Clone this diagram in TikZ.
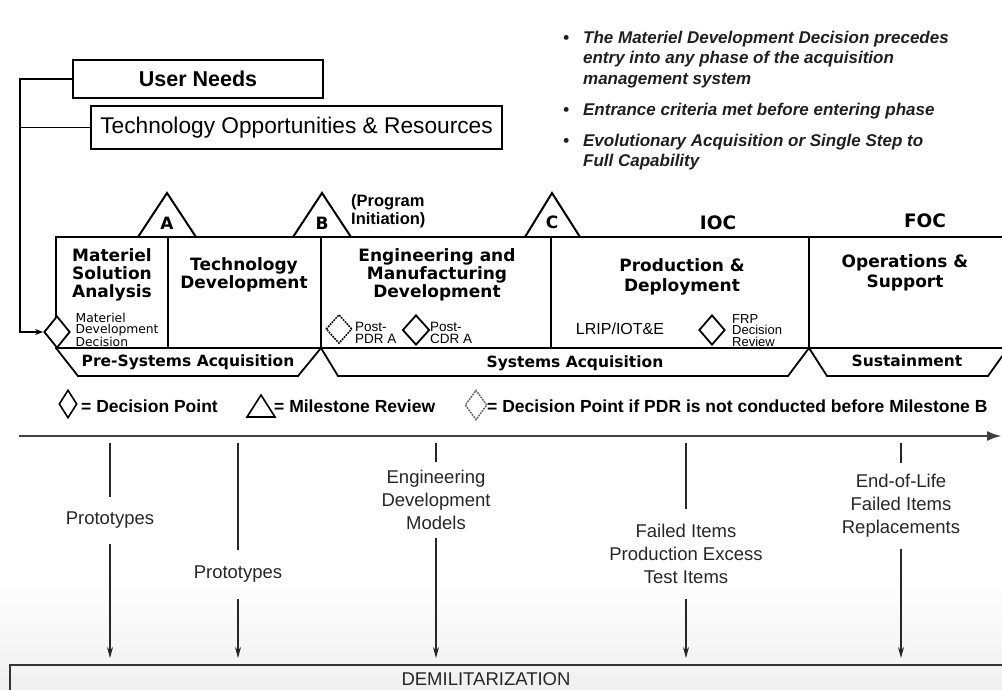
\documentclass[tikz,border=0pt]{standalone}
\usepackage{fontspec}
\setmainfont{Liberation Sans}
\newfontfamily\dvs{DejaVu Sans}
\usetikzlibrary{shapes.geometric,arrows.meta}
\newcommand\fsz[2]{\fontsize{#1}{#2}\selectfont}
\begin{document}
\begin{tikzpicture}[x=1pt,y=-1pt,
  topbox/.style={draw, line width=2pt, inner sep=0pt, outer sep=0pt},
  phase/.style={draw, line width=2.4pt, minimum height=111pt, inner sep=0pt, outer sep=0pt},
  ptitle/.style={font=\dvs\bfseries\fsz{17}{18}, align=center, inner sep=0pt},
  band/.style={draw, line width=1.8pt, line join=miter},
  bandtxt/.style={font=\dvs\bfseries\fsz{15.5}{17}, inner sep=0pt},
  ms/.style={draw, line width=2pt, line join=miter},
  mslet/.style={font=\dvs\bfseries\fsz{17}{18}, inner sep=0pt},
  dp/.style={diamond, draw, fill=white, line width=1.8pt, inner sep=0pt, minimum width=26pt, minimum height=30pt},
  dpdot/.style={dp, densely dotted, line width=1.5pt},
  smalltxt/.style={font=\fsz{13.5}{12}, align=left, inner sep=0pt, anchor=west},
  lgd/.style={font=\bfseries\fsz{17.5}{20}, inner sep=0pt, anchor=west},
  conn/.style={line width=1.5pt},
  drop/.style={line width=1.3pt, draw=black!85},
  droparr/.style={drop, -{Stealth[length=11pt,width=6pt]}, shorten >=7pt},
  botlab/.style={font=\fsz{18.5}{23}, align=center, text=black!85, inner xsep=0pt},
]
\useasboundingbox (0,0) rectangle (1002,689);
\clip (0,0) rectangle (1002,689);
\fill[top color=white, bottom color=black!6] (0,575) rectangle (1002,689);

% top boxes
\node[topbox, minimum width=250pt, minimum height=38pt, font=\bfseries\fsz{21.5}{24}] (un) at (198,79) {User Needs};
\node[topbox, minimum width=411pt, minimum height=43pt, font=\fsz{22.7}{25}] (tor) at (296.5,127.5) {Technology Opportunities \& Resources};

% bullets
\node[anchor=north west, inner sep=0pt, font=\bfseries\itshape\fsz{17}{20.5}, text=black!88] (bul) at (563,28.6) {\begin{tabular}{@{}l@{\hspace{14pt}}l@{}}
\textbullet & The Materiel Development Decision precedes\\
 & entry into any phase of the acquisition\\
 & management system\\[10.5pt]
\textbullet & Entrance criteria met before entering phase\\[10.5pt]
\textbullet & Evolutionary Acquisition or Single Step to\\
 & Full Capability
\end{tabular}};

% milestone triangles
\draw[ms] (138,237) -- (167,193) -- (196,237);
\draw[ms] (293,237) -- (322,193) -- (351,237);
\draw[ms] (525,237) -- (552,193) -- (580,237);
\node[mslet] (mA) at (167,223) {A};
\node[mslet] (mB) at (322,223) {B};
\node[mslet] (mC) at (552,222) {C};
\node[font=\bfseries\fsz{16.5}{18}, align=left, inner sep=0pt, anchor=west] (pi) at (351,211) {(Program\\Initiation)};
\node[font=\dvs\bfseries\fsz{18.5}{20}, inner sep=0pt] (ioc) at (718,223) {IOC};
\node[font=\dvs\bfseries\fsz{18.5}{20}, inner sep=0pt] (foc) at (925,221) {FOC};

% phase boxes
\node[phase, minimum width=112pt] (msa) at (112,292.5) {};
\node[phase, minimum width=153pt] (td) at (244.5,292.5) {};
\node[phase, minimum width=230pt] (emd) at (436,292.5) {};
\node[phase, minimum width=258pt] (pd) at (680,292.5) {};
\node[phase, minimum width=203pt] (os) at (910.5,292.5) {};

\node[ptitle] (tmsa) at (112,275) {Materiel\\Solution\\Analysis};
\node[ptitle] (ttd) at (244,275) {Technology\\Development};
\node[ptitle] (temd) at (437,275) {Engineering and\\Manufacturing\\Development};
\node[ptitle, font=\dvs\bfseries\fsz{17}{20}] (tpd) at (682,277) {Production \&\\Deployment};
\node[ptitle, font=\dvs\bfseries\fsz{17}{20}] (tos) at (905,272.5) {Operations \&\\Support};

% bands
\draw[band] (56,348) -- (78,376) -- (298,376) -- (321,348);
\draw[band] (321,348) -- (338,376) -- (788,376) -- (809,348);
\draw[band] (809,348) -- (827,376) -- (988,376) -- (1008,348);
\node[bandtxt] (bpre) at (188,362) {Pre-Systems Acquisition};
\node[bandtxt] (bsys) at (575,363) {Systems Acquisition};
\node[bandtxt] (bsus) at (907,361) {Sustainment};

% decision points
\node[dp, minimum width=26pt, minimum height=32pt] (mdd) at (57,332) {};
\node[font=\dvs\fsz{12.3}{11.3}, align=left, inner sep=0pt, anchor=west] (mddt) at (75.5,330) {Materiel\\Development\\Decision};
\node[dpdot, minimum width=26pt, minimum height=29pt] (pdr) at (339,329) {};
\node[smalltxt] (pdrt) at (355,332.5) {Post-\\PDR A};
\node[dp, minimum width=27pt, minimum height=30pt] (cdr) at (416,330) {};
\node[smalltxt] (cdrt) at (430,332.5) {Post-\\CDR A};
\node[font=\fsz{16}{18}, inner sep=0pt] (lrip) at (620,329) {LRIP/IOT\&E};
\node[dp, minimum width=26pt, minimum height=30pt] (frp) at (712,330) {};
\node[smalltxt, font=\fsz{13}{11.8}] (frpt) at (732,330.5) {FRP\\Decision\\Review};

% input connectors
\coordinate (lx) at (20,0);
\draw[conn, -{Stealth[length=8pt,width=6pt]}] (un.west) -- (un.west -| lx) |- (mdd.west);
\draw[conn] (tor.west) -- (tor.west -| lx);

% legend
\node[dp, minimum width=18pt, minimum height=28pt, line width=1.6pt] (l1) at (68,404) {};
\node[lgd] (l1t) at (81,406) {= Decision Point};
\draw[line width=1.6pt, line join=miter] (247,417) -- (261,395) -- (275,417) -- cycle;
\node[lgd] (l2t) at (274,406) {= Milestone Review};
\node[dpdot, minimum width=22pt, minimum height=30pt, draw=black!60] (l3) at (476,405) {};
\node[lgd] (l3t) at (487,406) {= Decision Point if PDR is not conducted before Milestone B};

% timeline
\coordinate (tl0) at (19,436);
\coordinate (tl1) at (1002,436);
\draw[line width=2.6pt, draw=black!75, -{Latex[length=15pt,width=10pt]}] (tl0) -- (tl1);

% demilitarization box
\coordinate (demtop) at (10,665);
\draw[line width=2pt, draw=black!80] (10,700) -- (demtop) -- (1012,665) -- (1012,700);
\node[font=\fsz{18.5}{20}, text=black!85, inner sep=0pt] (demil) at (486,679) {DEMILITARIZATION};

% drops
\coordinate (s1) at (110,443);
\coordinate (s2) at (238,443);
\coordinate (s3) at (436,443);
\coordinate (s4) at (686,443);
\coordinate (s5) at (901,443);
\node[botlab, inner ysep=15pt] (p1) at (110,520.5) {Prototypes};
\node[botlab, inner ysep=16pt] (p2) at (238,574.5) {Prototypes};
\node[botlab, inner ysep=8pt] (edm) at (436,499.5) {Engineering\\Development\\Models};
\node[botlab, inner ysep=15pt] (fail) at (686,553.5) {Failed Items\\Production Excess\\Test Items};
\node[botlab, inner ysep=11pt] (eol) at (901,506) {End-of-Life\\Failed Items\\Replacements};
\draw[drop] (s1) -- (p1);
\draw[drop] (s2) -- (p2);
\draw[drop] (s3) -- (edm);
\draw[drop] (s4) -- (fail);
\draw[drop] (s5) -- (eol);
\draw[droparr] (p1) -- (p1 |- demtop);
\draw[droparr] (p2) -- (p2 |- demtop);
\draw[droparr] (edm) -- (edm |- demtop);
\draw[droparr] (fail) -- (fail |- demtop);
\draw[droparr] (eol) -- (eol |- demtop);
\end{tikzpicture}
\end{document}
